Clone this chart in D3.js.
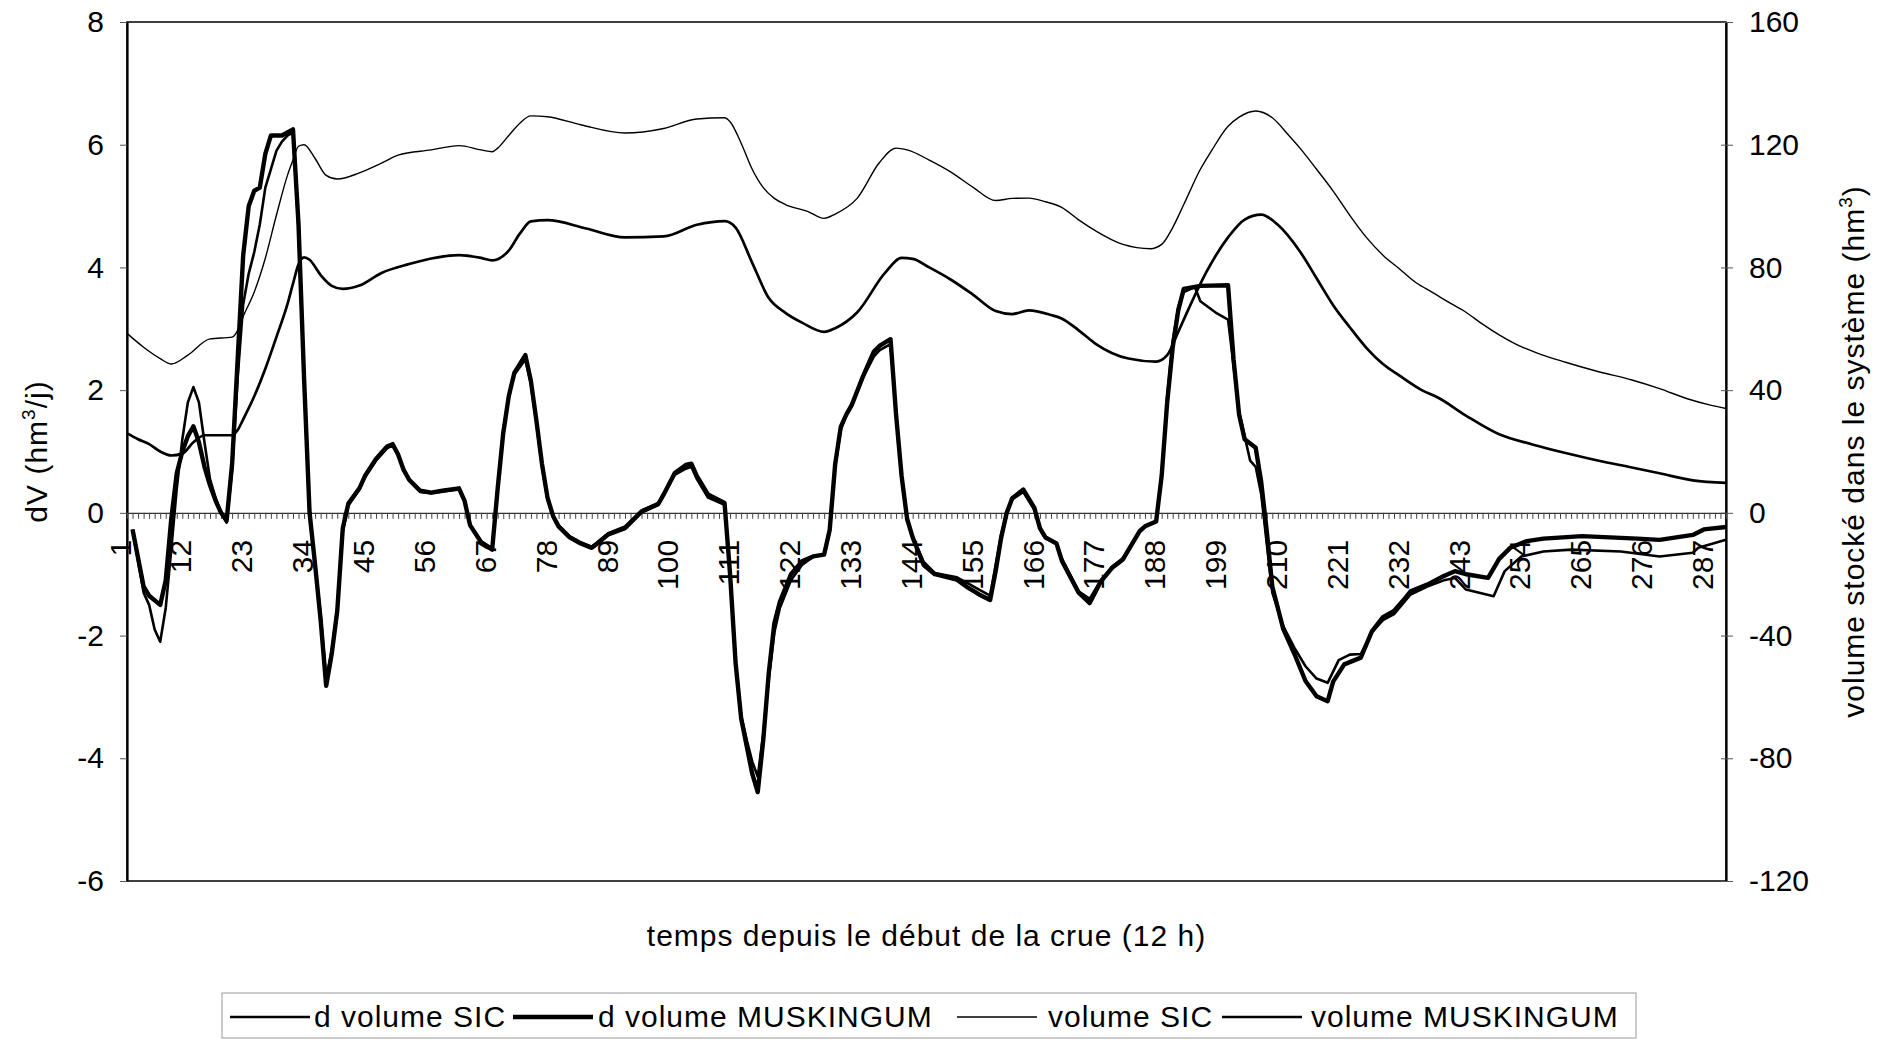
<!DOCTYPE html>
<html>
<head>
<meta charset="utf-8">
<script src="https://cdn.jsdelivr.net/npm/d3@7"></script>
<style>
  body { margin: 0; background: #fff; }
  svg text { font-family: "Liberation Sans", Arial, sans-serif; fill: #000; }
</style>
</head>
<body>
<svg id="chart"></svg>
<script>
var categoryCount = 290;
var xTickLabels = [1, 12, 23, 34, 45, 56, 67, 78, 89, 100, 111, 122, 133, 144, 155, 166, 177, 188, 199, 210, 221, 232, 243, 254, 265, 276, 287];
var leftTicks = [8, 6, 4, 2, 0, -2, -4, -6];
var rightTicks = [160, 120, 80, 40, 0, -40, -80, -120];
var seriesNames = ["d volume SIC", "d volume MUSKINGUM", "volume SIC", "volume MUSKINGUM"];

// [pas de temps, dV (hm3/j)]
var dVolumeSIC = [[2,-0.27],[4,-1.3],[5,-1.5],[6,-1.9],[7,-2.1],[8,-1.55],[9,-0.6],[10,0.4],[11,1.2],[12,1.8],[13,2.05],[14,1.8],[15,1.15],[16,0.55],[17,0.25],[18,0.0],[19,-0.16],[20,0.7],[21,2.2],[22,3.4],[23,3.9],[24,4.25],[25,4.7],[26,5.3],[27,5.6],[28,5.9],[29,6.05],[30,6.15],[31,6.2],[32,4.6],[33,2.1],[34,-0.05],[35,-0.85],[36,-1.65],[37,-2.7],[38,-2.25],[39,-1.55],[40,-0.3],[41,0.12],[43,0.38],[44,0.58],[46,0.85],[48,1.05],[49,1.1],[50,0.95],[51,0.7],[52,0.52],[54,0.34],[56,0.32],[58,0.35],[61,0.38],[62,0.2],[63,-0.2],[65,-0.46],[67,-0.58],[68,0.45],[69,1.35],[70,1.9],[71,2.25],[73,2.5],[74,2.1],[75,1.45],[76,0.75],[77,0.22],[78,-0.05],[79,-0.2],[81,-0.38],[83,-0.48],[85,-0.55],[86,-0.48],[88,-0.33],[91,-0.22],[94,0.04],[97,0.16],[98,0.3],[100,0.62],[102,0.72],[103,0.75],[104,0.55],[106,0.25],[109,0.13],[110,-1.0],[111,-2.4],[112,-3.3],[113,-3.7],[114,-4.05],[115,-4.3],[116,-3.6],[117,-2.7],[118,-1.95],[119,-1.55],[121,-1.1],[123,-0.85],[125,-0.72],[127,-0.68],[128,-0.3],[129,0.75],[130,1.35],[131,1.6],[132,1.75],[134,2.2],[136,2.55],[137,2.65],[139,2.75],[140,1.6],[141,0.55],[142,-0.12],[143,-0.4],[145,-0.8],[147,-0.98],[151,-1.05],[153,-1.15],[155,-1.25],[157,-1.35],[158,-0.85],[159,-0.35],[160,0.0],[161,0.22],[163,0.34],[165,0.05],[166,-0.27],[167,-0.42],[169,-0.5],[170,-0.75],[173,-1.28],[175,-1.4],[177,-1.1],[179,-0.88],[181,-0.74],[184,-0.3],[185,-0.22],[187,-0.14],[188,0.6],[189,1.9],[190,2.8],[191,3.35],[192,3.6],[194,3.68],[195,3.45],[198,3.25],[200,3.15],[201,2.4],[202,1.65],[204,0.85],[205,0.75],[206,0.3],[207,-0.5],[208,-1.3],[210,-1.85],[212,-2.2],[214,-2.5],[216,-2.7],[218,-2.77],[220,-2.4],[222,-2.31],[224,-2.3],[226,-1.95],[228,-1.75],[230,-1.65],[233,-1.33],[236,-1.2],[239,-1.1],[241,-1.06],[243,-1.25],[248,-1.36],[250,-0.95],[253,-0.71],[257,-0.63],[262,-0.6],[271,-0.63],[278,-0.71],[284,-0.65],[285,-0.57],[290,-0.44]];

var dVolumeMuskingum = [[2,-0.27],[4,-1.2],[5,-1.35],[7,-1.5],[8,-1.1],[9,-0.1],[10,0.65],[11,1.0],[12,1.25],[13,1.41],[14,1.15],[15,0.75],[16,0.45],[17,0.2],[18,0.0],[19,-0.13],[20,0.8],[21,2.5],[22,4.2],[23,5.0],[24,5.25],[25,5.3],[26,5.85],[27,6.15],[29,6.15],[30,6.2],[31,6.25],[32,4.7],[33,2.2],[34,0.0],[35,-0.85],[36,-1.75],[37,-2.82],[38,-2.3],[39,-1.6],[40,-0.25],[41,0.15],[43,0.4],[44,0.6],[46,0.88],[48,1.08],[49,1.12],[50,0.95],[51,0.7],[52,0.54],[54,0.36],[56,0.33],[58,0.36],[61,0.4],[62,0.2],[63,-0.2],[65,-0.48],[67,-0.6],[68,0.4],[69,1.3],[70,1.9],[71,2.28],[73,2.57],[74,2.15],[75,1.5],[76,0.8],[77,0.25],[78,-0.05],[79,-0.22],[81,-0.4],[83,-0.5],[85,-0.57],[86,-0.5],[88,-0.35],[91,-0.25],[94,0.02],[97,0.14],[98,0.3],[100,0.65],[102,0.78],[103,0.8],[104,0.6],[106,0.3],[109,0.16],[110,-1.0],[111,-2.45],[112,-3.35],[113,-3.8],[114,-4.25],[115,-4.55],[116,-3.7],[117,-2.6],[118,-1.8],[119,-1.45],[121,-1.0],[123,-0.79],[125,-0.71],[127,-0.68],[128,-0.28],[129,0.8],[130,1.4],[131,1.6],[132,1.76],[134,2.22],[136,2.63],[137,2.72],[139,2.83],[140,1.6],[141,0.6],[142,-0.1],[143,-0.4],[145,-0.85],[147,-1.0],[151,-1.09],[153,-1.22],[155,-1.33],[157,-1.42],[158,-0.95],[159,-0.4],[160,0.0],[161,0.24],[163,0.38],[165,0.08],[166,-0.25],[167,-0.4],[169,-0.5],[170,-0.79],[173,-1.3],[175,-1.47],[177,-1.12],[179,-0.9],[181,-0.76],[184,-0.3],[185,-0.22],[187,-0.14],[188,0.6],[189,1.8],[190,2.7],[191,3.3],[192,3.65],[195,3.7],[200,3.71],[201,2.5],[202,1.6],[203,1.2],[205,1.06],[206,0.5],[207,-0.3],[208,-1.2],[210,-1.9],[211,-2.1],[212,-2.3],[214,-2.74],[216,-2.99],[218,-3.07],[219,-2.75],[221,-2.47],[224,-2.36],[226,-1.93],[228,-1.7],[230,-1.6],[232,-1.39],[233,-1.28],[236,-1.17],[239,-1.03],[241,-0.95],[243,-1.0],[247,-1.06],[249,-0.75],[251,-0.57],[254,-0.46],[257,-0.42],[264,-0.38],[274,-0.42],[278,-0.44],[284,-0.36],[286,-0.27],[290,-0.23]];

// [pas de temps, volume stocke (hm3)]
var volumeSIC = [[1,58.5],[4,54],[7,50.3],[9,48.5],[12,51.4],[16,56.7],[20,57.3],[21,59.5],[22,64],[24,72],[26,83],[28,97],[30,110],[31,115],[32,119.5],[33,120],[35,115.5],[37,110],[39,108.8],[43,110.8],[47,114],[50,116.6],[56,118.3],[61,119.7],[65,118.3],[67,117.7],[68,118.9],[70,123],[72,127],[74,129.4],[77,129.1],[83,126.5],[91,123.8],[98,125.3],[104,128.4],[109,128.8],[110,127.5],[112,120.5],[114,112],[116,106],[118,102.5],[120,100.5],[124,98.3],[127,96],[129,97.4],[133,102.6],[137,114.2],[140,118.9],[142,118.3],[146,115],[150,111],[154,106],[158,101.8],[161,102.5],[164,102.6],[167,101.4],[170,99.5],[173,95.5],[176,92],[181,87.5],[186,86.1],[188,87.5],[190,93],[192,100.5],[195,112],[197,118],[200,126],[202,129],[205,131],[208,128.8],[211,123],[213,118.9],[216,112],[219,104.9],[222,97],[225,89.8],[228,84],[231,79.5],[234,75],[237,71.8],[240,68.5],[243,65.4],[246,61.5],[249,58],[252,55],[256,52],[261,49.1],[267,46],[273,43.3],[278,40.5],[283,37.2],[287,35.2],[290,34]];

var volumeMuskingum = [[1,25.9],[3,24],[5,22.4],[7,20],[9,18.7],[11,19.3],[13,23],[15,25.3],[20,25.3],[21,27],[22,30.5],[24,38],[26,47],[28,57.3],[30,68],[31,74.7],[32,81],[33,83.3],[34,82.5],[36,77.5],[38,74],[40,73],[43,74.1],[47,78.2],[52,81.1],[56,82.9],[61,84],[65,83.1],[67,82.3],[70,85.5],[72,91],[74,95],[77,95.4],[84,92.7],[91,89.8],[98,90.1],[104,93.9],[109,95.1],[111,93],[114,81.5],[117,70],[120,65.2],[123,62],[127,59],[129,60.2],[133,65.4],[138,78.2],[141,83.1],[143,82.8],[146,80],[150,75.9],[154,71],[158,65.8],[161,64.8],[164,66],[168,64.5],[170,63.3],[173,59.5],[176,55.2],[182,50.3],[187,49.3],[189,51.4],[191,59],[193,67],[196,78.2],[200,89.8],[203,95.6],[206,97.2],[209,93.9],[213,85.2],[216,76.5],[219,67.7],[222,60.5],[225,53.8],[228,48.5],[231,44.7],[235,40],[238,37.5],[243,31.7],[249,25.6],[255,22.3],[261,19.5],[267,17],[273,14.8],[278,12.9],[284,10.6],[290,9.8]];

var width = 1883,
    height = 1042,
    plotLeft = 127,
    plotRight = 1726,
    plotTop = 22,
    plotBottom = 881,
    fontSize = 30;

var svg = d3.select("#chart")
  .attr("width", width)
  .attr("height", height);

var xScale = d3.scaleLinear()
  .domain([1, categoryCount])
  .range([plotLeft, plotRight]);

var yLeft = d3.scaleLinear()
  .domain([-6, 8])
  .range([plotBottom, plotTop]);

var yRight = d3.scaleLinear()
  .domain([-120, 160])
  .range([plotBottom, plotTop]);

// plain hyphen, like the original, not the unicode minus of d3.format
var plainNumber = function (d) { return String(d); };

// cadre
svg.append("rect")
  .attr("x", plotLeft)
  .attr("y", plotTop)
  .attr("width", plotRight - plotLeft)
  .attr("height", plotBottom - plotTop)
  .attr("fill", "none")
  .attr("stroke", "#000")
  .attr("stroke-width", 1.5);

var leftAxis = svg.append("g")
  .attr("transform", "translate(" + plotLeft + ",0)")
  .call(d3.axisLeft(yLeft).tickValues(leftTicks).tickFormat(plainNumber).tickSize(7).tickSizeOuter(0).tickPadding(16));

var rightAxis = svg.append("g")
  .attr("transform", "translate(" + plotRight + ",0)")
  .call(d3.axisRight(yRight).tickValues(rightTicks).tickFormat(plainNumber).tickSize(7).tickSizeOuter(0).tickPadding(16));

rightAxis.selectAll(".tick line").attr("x1", -5);

[leftAxis, rightAxis].forEach(function (g) {
  g.attr("font-size", null).attr("font-family", null);
  g.select(".domain").attr("stroke", "#000").attr("stroke-width", 2.2);
  g.selectAll(".tick line").attr("stroke", "#555").attr("stroke-width", 1);
  g.selectAll(".tick text").style("font-size", fontSize + "px").attr("fill", "#000");
});

// axe des categories sur le zero
var xAxis = svg.append("g")
  .attr("transform", "translate(0," + yLeft(0) + ")")
  .call(d3.axisBottom(xScale).tickValues(d3.range(1, categoryCount + 1)).tickSize(6).tickSizeOuter(0).tickFormat(""));

xAxis.select(".domain").attr("stroke", "#333").attr("stroke-width", 1.3);
xAxis.selectAll(".tick line").attr("stroke", "#444").attr("stroke-width", 1);

svg.append("g")
  .attr("class", "x-labels")
  .selectAll("text")
  .data(xTickLabels)
  .enter()
  .append("text")
  .attr("transform", function (d) {
    return "translate(" + xScale(d) + "," + (yLeft(0) + 27) + ") rotate(-90)";
  })
  .attr("text-anchor", "end")
  .attr("dy", "0.12em")
  .style("font-size", fontSize + "px")
  .text(function (d) { return d; });

var lineLeft = d3.line()
  .x(function (d) { return xScale(d[0]); })
  .y(function (d) { return yLeft(d[1]); });

var lineRight = d3.line()
  .curve(d3.curveMonotoneX)
  .x(function (d) { return xScale(d[0]); })
  .y(function (d) { return yRight(d[1]); });

var series = [
  {data: dVolumeSIC, line: lineLeft, stroke: 2.6},
  {data: dVolumeMuskingum, line: lineLeft, stroke: 4.4},
  {data: volumeSIC, line: lineRight, stroke: 1.4},
  {data: volumeMuskingum, line: lineRight, stroke: 2.7}
];

svg.append("g")
  .attr("class", "series")
  .selectAll("path")
  .data(series)
  .enter()
  .append("path")
  .attr("d", function (d) { return d.line(d.data); })
  .attr("fill", "none")
  .attr("stroke", "#000")
  .attr("stroke-width", function (d) { return d.stroke; })
  .attr("stroke-linejoin", "round");

// titres
svg.append("text")
  .attr("x", (plotLeft + plotRight) / 2)
  .attr("y", 946)
  .attr("text-anchor", "middle")
  .style("font-size", fontSize + "px")
  .style("letter-spacing", "1px")
  .text("temps depuis le début de la crue (12 h)");

var leftTitle = svg.append("text")
  .attr("transform", "translate(47," + (plotTop + plotBottom) / 2 + ") rotate(-90)")
  .attr("text-anchor", "middle")
  .style("font-size", fontSize + "px")
  .style("letter-spacing", "1px");
leftTitle.append("tspan").text("dV (hm");
leftTitle.append("tspan").attr("dy", -12).style("font-size", "19px").text("3");
leftTitle.append("tspan").attr("dy", 12).text("/j)");

var rightTitle = svg.append("text")
  .attr("transform", "translate(1864," + (plotTop + plotBottom) / 2 + ") rotate(-90)")
  .attr("text-anchor", "middle")
  .style("font-size", fontSize + "px")
  .style("letter-spacing", "1px");
rightTitle.append("tspan").text("volume stocké dans le système (hm");
rightTitle.append("tspan").attr("dy", -12).style("font-size", "19px").text("3");
rightTitle.append("tspan").attr("dy", 12).text(")");

// legende
var legendLineX = [230, 513, 957, 1222],
    legendTextX = [314, 598, 1048, 1311],
    legendY = 1017;

var legend = svg.append("g").attr("class", "legend");

legend.append("rect")
  .attr("x", 222)
  .attr("y", 993)
  .attr("width", 1636 - 222)
  .attr("height", 45)
  .attr("fill", "none")
  .attr("stroke", "#999")
  .attr("stroke-width", 1);

var legendItem = legend.selectAll(".item")
  .data(series)
  .enter()
  .append("g")
  .attr("class", "item");

legendItem.append("line")
  .attr("x1", function (d, i) { return legendLineX[i]; })
  .attr("x2", function (d, i) { return legendLineX[i] + 80; })
  .attr("y1", legendY)
  .attr("y2", legendY)
  .attr("stroke", "#000")
  .attr("stroke-width", function (d) { return d.stroke; });

legendItem.append("text")
  .attr("x", function (d, i) { return legendTextX[i]; })
  .attr("y", legendY + 10)
  .style("font-size", fontSize + "px")
  .style("letter-spacing", "1px")
  .text(function (d, i) { return seriesNames[i]; });
</script>
</body>
</html>
